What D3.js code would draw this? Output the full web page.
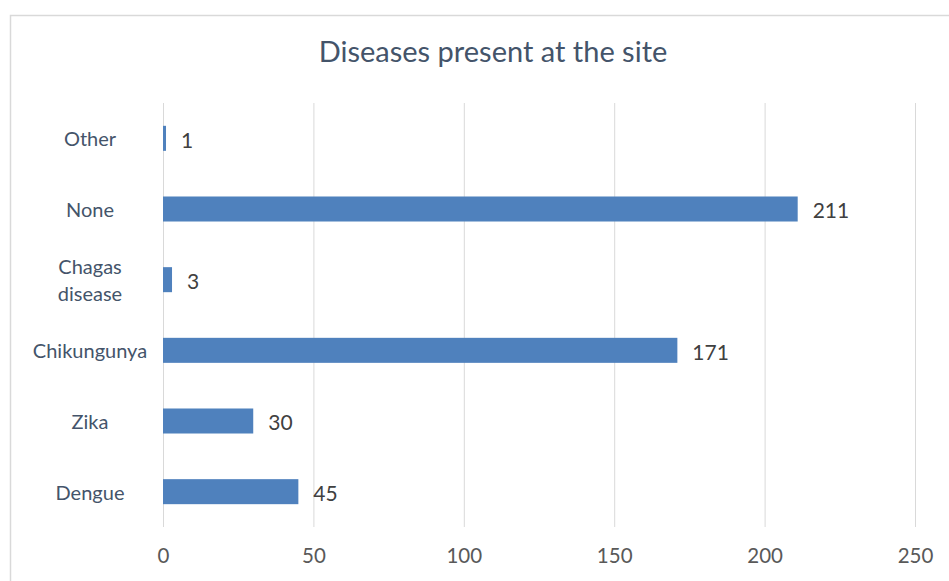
<!DOCTYPE html>
<html><head><meta charset="utf-8">
<script src="https://cdn.jsdelivr.net/npm/d3@7"></script>
<style>body{margin:0;background:#fff;} svg{display:block;}</style>
</head><body>
<svg id="c" width="949" height="581"></svg>
<script>
const categories = ["Other", "None", "Chagas disease", "Chikungunya", "Zika", "Dengue"];
const values = [1, 211, 3, 171, 30, 45];
const xTicks = [0, 50, 100, 150, 200, 250];
const title = "Diseases present at the site";

const svg = d3.select("#c");
const font = "Lato, 'Open Sans', sans-serif";

// chart frame
svg.append("rect").attr("x", 10.5).attr("y", 15.5).attr("width", 1000).attr("height", 1000)
  .attr("fill", "#fff").attr("stroke", "#d9d9d9").attr("stroke-width", 1.5);

const x = d3.scaleLinear().domain([0, 250]).range([163, 915]);
const y = d3.scaleBand().domain(categories).range([103, 527]).paddingInner(0.646).paddingOuter(0.323);

// gridlines
svg.append("g").selectAll("line").data(xTicks).join("line")
  .attr("x1", d => x(d) + 0.5).attr("x2", d => x(d) + 0.5)
  .attr("y1", 103).attr("y2", 527)
  .attr("stroke", "#d9d9d9").attr("stroke-width", 1);

// x tick labels
const xa = d3.axisBottom(x).tickValues(xTicks).tickSize(0).tickPadding(0);
const gx = svg.append("g").attr("transform", "translate(0,545)").call(xa);
gx.select(".domain").remove();
gx.selectAll("text").attr("font-family", font).attr("font-size", 20.5).attr("fill", "#595959").attr("dy", "0.9em");

// bars
svg.append("g").selectAll("rect").data(categories).join("rect")
  .attr("x", x(0)).attr("y", d => y(d))
  .attr("width", (d, i) => x(values[i]) - x(0))
  .attr("height", y.bandwidth())
  .attr("fill", "#4f81bd");

// value labels
svg.append("g").selectAll("text").data(categories).join("text")
  .attr("x", (d, i) => x(values[i]) + 15)
  .attr("y", d => y(d) + y.bandwidth() / 2 + 2)
  .attr("dy", "0.35em")
  .attr("font-family", font).attr("font-size", 21).attr("fill", "#404040")
  .text((d, i) => values[i]);

// category labels (wrapped)
const lab = svg.append("g").selectAll("text").data(categories).join("text")
  .attr("x", 90)
  .attr("y", d => y(d) + y.bandwidth() / 2 + 1)
  .attr("text-anchor", "middle")
  .attr("font-family", font).attr("font-size", 20).attr("fill", "#44546a");
lab.each(function(d) {
  const t = d3.select(this);
  const words = d === "Chagas disease" ? ["Chagas", "disease"] : [d];
  const n = words.length;
  words.forEach((w, i) => {
    t.append("tspan").attr("x", t.attr("x"))
      .attr("dy", i === 0 ? (0.35 - (n - 1) * 0.68) + "em" : "1.36em").text(w);
  });
});

// title
svg.append("text").attr("x", 493).attr("y", 62).attr("text-anchor", "middle")
  .attr("font-family", font).attr("font-size", 29).attr("fill", "#44546a").text(title);
</script>
</body></html>
